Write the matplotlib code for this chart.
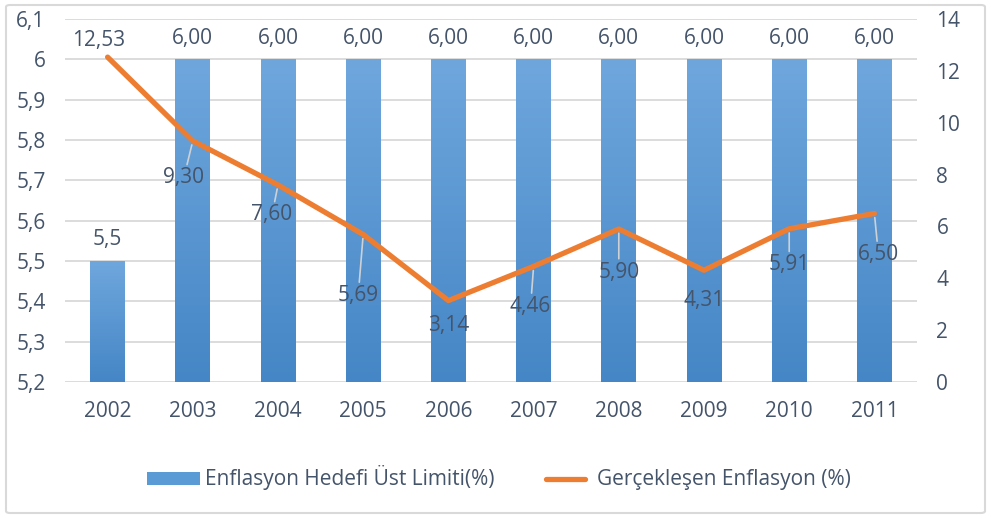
import numpy as np
import matplotlib
matplotlib.use("Agg")
import matplotlib.pyplot as plt
from matplotlib.patches import Patch, FancyBboxPatch
from matplotlib.lines import Line2D
from matplotlib.legend_handler import HandlerLine2D

# data
years = ["2002", "2003", "2004", "2005", "2006", "2007", "2008", "2009", "2010", "2011"]
target_upper = [5.5, 6.00, 6.00, 6.00, 6.00, 6.00, 6.00, 6.00, 6.00, 6.00]
target_labels = ["5,5", "6,00", "6,00", "6,00", "6,00", "6,00", "6,00", "6,00", "6,00", "6,00"]
actual = [12.53, 9.30, 7.60, 5.69, 3.14, 4.46, 5.90, 4.31, 5.91, 6.50]
actual_labels = ["12,53", "9,30", "7,60", "5,69", "3,14", "4,46", "5,90", "4,31", "5,91", "6,50"]
left_ticks = [5.2, 5.3, 5.4, 5.5, 5.6, 5.7, 5.8, 5.9, 6.0, 6.1]
left_tick_labels = ["5,2", "5,3", "5,4", "5,5", "5,6", "5,7", "5,8", "5,9", "6", "6,1"]
right_ticks = [0, 2, 4, 6, 8, 10, 12, 14]

# label offsets in pixels (label centre relative to point)
offsets = [(-9, 17), (-9, -37), (-6, -30), (-5, -61), (0, -25),
           (-3, -40), (0, -43), (0, -30), (0, -36), (4, -41)]
leader = [False, True, True, True, False, True, True, False, True, True]

TXT = "#44546A"
FS = 15
plt.rcParams["font.family"] = ["Open Sans", "DejaVu Sans"]

W, H = 991, 518
fig = plt.figure(figsize=(W / 100, H / 100), dpi=100)
fig.patches.append(FancyBboxPatch((6 / W, 5 / H), 979 / W, 508 / H,
                                  boxstyle="round,pad=0,rounding_size=0.004",
                                  transform=fig.transFigure, fill=False,
                                  edgecolor="#D9D9D9", linewidth=1.5))

ax = fig.add_axes([65 / W, (H - 382) / H, 852 / W, 363 / H])
x = np.arange(len(years))

bars = ax.bar(x, np.array(target_upper) - 5.2, bottom=5.2, width=0.41, color="none",
              zorder=2)
grad = np.linspace(0, 1, 256).reshape(-1, 1)
cmap = matplotlib.colors.LinearSegmentedColormap.from_list("b", ["#4586C6", "#6FA7DD"])
for b in bars:
    x0, y0 = b.get_x(), b.get_y()
    im = ax.imshow(grad, extent=[x0, x0 + b.get_width(), y0, y0 + b.get_height()],
                   origin="lower", cmap=cmap, aspect="auto", zorder=2)
    im.set_clip_path(b)

for xi, v, lab in zip(x, target_upper, target_labels):
    ax.annotate(lab, (xi, v), xytext=(0, 21), textcoords="offset pixels",
                ha="center", va="center", fontsize=FS, color=TXT)

ax.set_xlim(-0.5, len(years) - 0.5)
ax.set_ylim(5.2, 6.1)
ax.set_yticks(left_ticks)
ax.set_yticklabels(left_tick_labels)
ax.set_xticks(x)
ax.set_xticklabels(years)
ax.grid(axis="y", color="#D9D9D9", linewidth=1.3, zorder=0)
ax.set_axisbelow(True)
for s in ax.spines.values():
    s.set_visible(False)
ax.tick_params(axis="both", length=0, labelsize=FS, colors=TXT)
ax.tick_params(axis="y", pad=14)
ax.tick_params(axis="x", pad=14)

ax2 = ax.twinx()
ax2.plot(x, actual, color="#ED7D31", linewidth=3.8, solid_capstyle="round",
         solid_joinstyle="round", zorder=3)
ax2.set_ylim(0, 14)
ax2.set_yticks(right_ticks)
for s in ax2.spines.values():
    s.set_visible(False)
ax2.tick_params(axis="y", length=0, labelsize=FS, colors=TXT, pad=14)

for xi, v, lab, off, ld in zip(x, actual, actual_labels, offsets, leader):
    props = None
    if ld:
        props = dict(arrowstyle="-", color="#CDD1D6", linewidth=1.2, shrinkA=0, shrinkB=3)
    ax2.annotate(lab, (xi, v), xytext=off, textcoords="offset pixels",
                 ha="center", va="center", fontsize=FS, color=TXT,
                 arrowprops=props, zorder=4)

line_handle = Line2D([0], [0], color="#ED7D31", linewidth=3.8, solid_capstyle="round")
handles = [Patch(facecolor="#5B9BD5", edgecolor="none"), line_handle]
fig.legend(handles, ["Enflasyon Hedefi Üst Limiti(%)", "Gerçekleşen Enflasyon (%)"],
           loc="center", bbox_to_anchor=(499 / W, (H - 478) / H), ncol=2, frameon=False,
           fontsize=FS, labelcolor=TXT, handlelength=2.55, handleheight=0.6,
           handletextpad=0.25, columnspacing=2.1,
           handler_map={line_handle: HandlerLine2D(numpoints=2, marker_pad=0.35)})

fig.savefig("out.png", dpi=100)
